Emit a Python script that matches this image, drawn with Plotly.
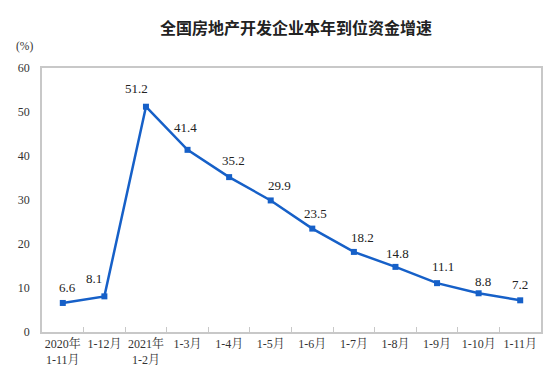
import plotly.graph_objects as go

categories = ["2020年<br>1-11月", "1-12月", "2021年<br>1-2月", "1-3月", "1-4月", "1-5月",
              "1-6月", "1-7月", "1-8月", "1-9月", "1-10月", "1-11月"]
values = [6.6, 8.1, 51.2, 41.4, 35.2, 29.9, 23.5, 18.2, 14.8, 11.1, 8.8, 7.2]
y_ticks = [0, 10, 20, 30, 40, 50, 60]

# label offsets (pixels) relative to each point
label_dx = [5, -10, -9, -2, 4, 9, 3, 9, 2, 6, 4, 0]
label_dy = [15, 18, 18, 22, 17, 15, 15, 14, 13, 17, 12, 16]

serif = "Liberation Serif, Noto Serif CJK SC, Noto Sans CJK SC, serif"
color = "#1660C8"

fig = go.Figure()
fig.add_trace(go.Scatter(
    x=categories, y=values, mode="lines+markers",
    line=dict(color=color, width=2.5),
    marker=dict(symbol="square", size=6, color=color),
    hoverinfo="skip", showlegend=False,
))

for c, v, dx, dy in zip(categories, values, label_dx, label_dy):
    fig.add_annotation(x=c, y=v, text=f"{v:.1f}", showarrow=False,
                       xshift=dx, yshift=dy,
                       font=dict(family=serif, size=13, color="#222"))

fig.add_annotation(xref="paper", yref="paper", x=-0.036, y=1.08, text="(%)",
                   showarrow=False, xanchor="center", yanchor="middle",
                   font=dict(family=serif, size=11.5, color="#333"))

fig.update_layout(
    width=554, height=390,
    margin=dict(l=42, r=13, t=68, b=58, autoexpand=False),
    paper_bgcolor="white", plot_bgcolor="white",
    title=dict(text="<b>全国房地产开发企业本年到位资金增速</b>", x=296 / 554, xanchor="center",
               y=1 - 28 / 390, yanchor="middle",
               font=dict(family="Noto Sans CJK SC", size=16, color="#222")),
    xaxis=dict(type="category", range=[-0.5, 11.5], showline=True, linecolor="#c8c8c8",
               linewidth=1.5, mirror=True, ticks="inside", ticklen=5, tickcolor="#c8c8c8",
               tickson="boundaries", showgrid=False, zeroline=False, tickangle=0,
               automargin=False,
               tickfont=dict(family=serif, size=12, color="#333")),
    yaxis=dict(range=[0, 60], tickvals=y_ticks, showline=True, linecolor="#c8c8c8",
               linewidth=1.5, mirror=True, showgrid=False, zeroline=False, ticks="",
               ticklabelstandoff=8, automargin=False,
               tickfont=dict(family=serif, size=12, color="#333")),
)

fig.write_html("out.html", post_script="document.body.style.margin='0';",
               config={"displayModeBar": False})
